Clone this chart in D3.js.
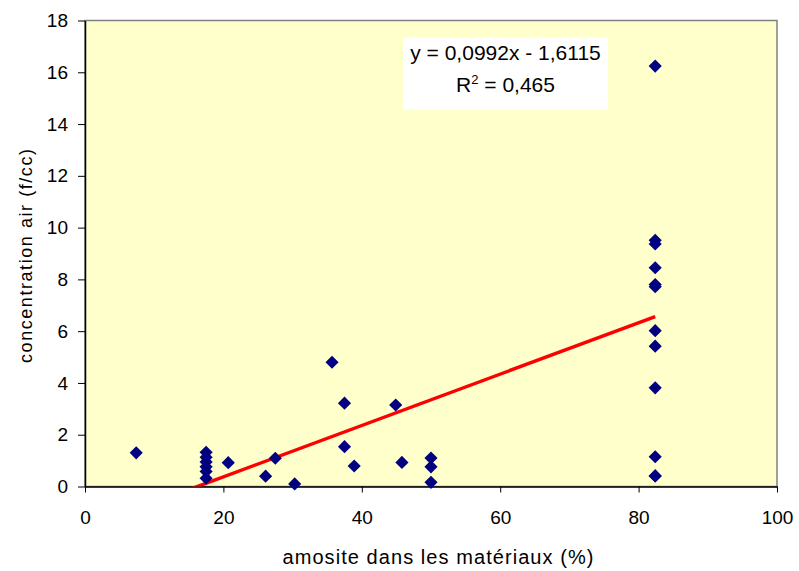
<!DOCTYPE html>
<html>
<head>
<meta charset="utf-8">
<script src="https://cdn.jsdelivr.net/npm/d3@7"></script>
<style>
  body { margin: 0; background: #fff; }
  svg { font-family: Arial, "Liberation Sans", sans-serif; }
</style>
</head>
<body>
<div id="chartDiv"></div>
<script>
'use strict';

// amosite % in materials / air concentration (f/cc)
const amositePct = [7.4, 17.5, 17.5, 17.5, 17.5, 17.5, 17.5, 20.7, 26.1, 27.5, 30.3,
    35.7, 37.5, 37.5, 38.9, 44.9, 45.8, 50, 50, 50,
    82.4, 82.4, 82.4, 82.4, 82.4, 82.4, 82.4, 82.4, 82.4, 82.4, 82.4, 82.4];
const concentration = [1.3, 1.32, 1.13, 0.95, 0.76, 0.58, 0.32, 0.92, 0.4, 1.09, 0.1,
    4.8, 3.22, 1.54, 0.79, 3.15, 0.93, 1.1, 0.76, 0.16,
    16.24, 9.51, 9.37, 8.45, 7.8, 7.72, 6.02, 5.42, 3.81, 1.15, 0.41, 0.41];

const xTicks = [0, 20, 40, 60, 80, 100];
const yTicks = [0, 2, 4, 6, 8, 10, 12, 14, 16, 18];

const trendSlope = 0.0992;
const trendIntercept = -1.6115;
const trendLabel = 'y = 0,0992x - 1,6115';
const r2Value = '0,465';

const xTitle = 'amosite dans les matériaux (%)';
const yTitle = 'concentration air (f/cc)';

const width = 799, height = 571;
const margin = { top: 20.5, right: 22, bottom: 84.5, left: 85 };
const innerW = width - margin.left - margin.right;
const innerH = height - margin.top - margin.bottom;

const svg = d3.select('#chartDiv').append('svg')
    .attr('width', width)
    .attr('height', height);

const xScale = d3.scaleLinear().domain([0, 100]).range([0, innerW]);
const yScale = d3.scaleLinear().domain([0, 18]).range([innerH, 0]);

const g = svg.append('g')
    .attr('transform', `translate(${margin.left},${margin.top})`);

// plot area
g.append('rect')
    .attr('width', innerW)
    .attr('height', innerH)
    .attr('fill', '#ffffcc')
    .attr('stroke', '#808080')
    .attr('stroke-width', 1.5);

g.append('clipPath').attr('id', 'plotClip')
  .append('rect').attr('width', innerW).attr('height', innerH);

// axes
const xAxis = g.append('g')
    .attr('transform', `translate(0,${innerH})`)
    .call(d3.axisBottom(xScale).tickValues(xTicks).tickSize(6).tickSizeOuter(0).tickPadding(18));

const yAxis = g.append('g')
    .call(d3.axisLeft(yScale).tickValues(yTicks).tickSize(7).tickSizeOuter(0).tickPadding(10));

[xAxis, yAxis].forEach(a => {
    a.select('.domain').attr('stroke', '#000').attr('stroke-width', 1.5);
    a.selectAll('.tick line').attr('stroke', '#000');
    a.selectAll('.tick text')
        .attr('font-family', 'Arial, "Liberation Sans", sans-serif')
        .attr('font-size', 19)
        .attr('fill', '#000');
});

// trend line from min x to max x, clipped by the plot area
const xMin = d3.min(amositePct), xMax = d3.max(amositePct);
const trend = [xMin, xMax].map(x => ({ x: x, y: trendSlope * x + trendIntercept }));

g.append('path')
    .datum(trend)
    .attr('clip-path', 'url(#plotClip)')
    .attr('fill', 'none')
    .attr('stroke', '#ff0000')
    .attr('stroke-width', 3.5)
    .attr('d', d3.line().x(d => xScale(d.x)).y(d => yScale(d.y)));

// markers
const diamond = d3.symbol().type(d3.symbolDiamond2).size(110);
g.selectAll('path.pt')
    .data(amositePct.map((x, i) => ({ x: x, y: concentration[i] })))
    .join('path')
    .attr('class', 'pt')
    .attr('transform', d => `translate(${xScale(d.x)},${yScale(d.y)})`)
    .attr('d', diamond)
    .attr('fill', '#000080');

// equation label
const lbl = g.append('g');
lbl.append('rect')
    .attr('x', 318).attr('y', 17)
    .attr('width', 205).attr('height', 72)
    .attr('fill', '#fff');
lbl.append('text')
    .attr('x', 420.5).attr('y', 39)
    .attr('text-anchor', 'middle')
    .attr('font-size', 21)
    .text(trendLabel);
const r2 = lbl.append('text')
    .attr('x', 420.5).attr('y', 71.5)
    .attr('text-anchor', 'middle')
    .attr('font-size', 21);
r2.append('tspan').text('R');
r2.append('tspan').attr('font-size', 13).attr('dy', -8).text('2');
r2.append('tspan').attr('dy', 8).text(' = ' + r2Value);

// axis titles
svg.append('text')
    .attr('x', 438)
    .attr('y', 564)
    .attr('text-anchor', 'middle')
    .attr('font-size', 20)
    .attr('textLength', 311)
    .attr('lengthAdjust', 'spacing')
    .text(xTitle);

svg.append('text')
    .attr('transform', 'translate(32,256) rotate(-90)')
    .attr('text-anchor', 'middle')
    .attr('font-size', 18)
    .attr('textLength', 214)
    .attr('lengthAdjust', 'spacing')
    .text(yTitle);
</script>
</body>
</html>
